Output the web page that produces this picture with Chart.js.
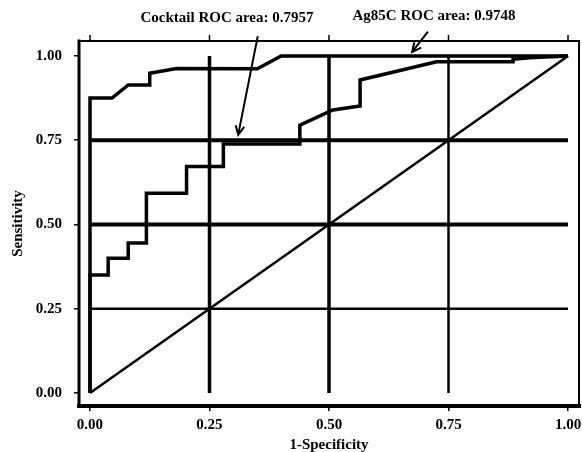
<!DOCTYPE html>
<html>
<head>
<meta charset="utf-8">
<script src="https://cdn.jsdelivr.net/npm/chart.js@4/dist/chart.umd.min.js"></script>
<style>
  html, body { margin: 0; padding: 0; background: #fff; }
  #wrap { width: 582px; height: 452px; }
</style>
</head>
<body>
<div id="wrap"><canvas id="roc"></canvas></div>
<script>
// --- data ---
const tickVals = [0, 0.25, 0.5, 0.75, 1];
const refLevels = [0.25, 0.5, 0.75];

// Ag85C ROC (upper curve)
const ag85cFpr = [0, 0, 0.046, 0.08, 0.125, 0.125, 0.181, 0.35, 0.40, 1.0];
const ag85cTpr = [0, 0.875, 0.875, 0.914, 0.914, 0.949, 0.963, 0.962, 1.0, 1.0];

// Cocktail ROC (lower curve)
const cocktailFpr = [0, 0, 0.038, 0.038, 0.08, 0.08, 0.118, 0.118, 0.202, 0.202, 0.279, 0.279,
  0.439, 0.439, 0.508, 0.565, 0.565, 0.725, 0.885, 0.885, 0.92, 1.0];
const cocktailTpr = [0, 0.35, 0.35, 0.40, 0.40, 0.445, 0.445, 0.593, 0.593, 0.672, 0.672, 0.739,
  0.739, 0.795, 0.84, 0.852, 0.929, 0.983, 0.983, 0.99, 0.995, 1.0];

const chanceFpr = [0, 1];
const chanceTpr = [0, 1];

// annotation labels and arrows (arrow ends in data units)
const labels = ['Cocktail ROC area: 0.7957', 'Ag85C ROC area: 0.9748'];
const arrowFrom = [[0.351, 1.059], [0.707, 1.072]];
const arrowTo = [[0.31, 0.766], [0.674, 1.012]];

const FONT = '"Liberation Serif", "Times New Roman", serif';

function pts(xs, ys) {
  return xs.map((x, i) => ({ x, y: ys[i] }));
}

function lineSet(data, width) {
  return {
    data,
    showLine: true,
    borderColor: '#000',
    borderWidth: width,
    pointRadius: 0,
    tension: 0,
    borderJoinStyle: 'miter',
  };
}

const hWidths = [2.5, 4, 4];
const vWidths = [3.5, 3.5, 2.5];

const datasets = [
  lineSet(pts(ag85cFpr, ag85cTpr), 3.5),
  lineSet(pts(cocktailFpr, cocktailTpr), 3.5),
  lineSet(pts(chanceFpr, chanceTpr), 2.5),
  ...refLevels.map((v, i) => lineSet([{ x: 0, y: v }, { x: 1, y: v }], hWidths[i])),
  ...refLevels.map((v, i) => lineSet([{ x: v, y: 0 }, { x: v, y: 1 }], vWidths[i])),
];

// frame, top ticks, annotations
const decor = {
  id: 'decor',
  afterDraw(chart) {
    const { ctx, chartArea: a, scales: { x, y } } = chart;
    ctx.save();
    ctx.strokeStyle = '#000';
    ctx.lineCap = 'square';
    const side = (x1, y1, x2, y2, w) => {
      ctx.lineWidth = w;
      ctx.beginPath(); ctx.moveTo(x1, y1); ctx.lineTo(x2, y2); ctx.stroke();
    };
    side(a.left, a.top, a.right, a.top, 2);
    side(a.right, a.top, a.right, a.bottom, 2);
    side(a.left, a.top, a.left, a.bottom, 3);
    side(a.left, a.bottom, a.right, a.bottom, 4);
    ctx.lineCap = 'butt';
    tickVals.forEach(v => {
      const px = x.getPixelForValue(v);
      side(px, a.top, px, a.top - 6, 1.5);
    });

    // arrows
    ctx.lineWidth = 2;
    arrowFrom.forEach((f, i) => {
      const x1 = x.getPixelForValue(f[0]), y1 = y.getPixelForValue(f[1]);
      const x2 = x.getPixelForValue(arrowTo[i][0]), y2 = y.getPixelForValue(arrowTo[i][1]);
      ctx.beginPath(); ctx.moveTo(x1, y1); ctx.lineTo(x2, y2); ctx.stroke();
      const ang = Math.atan2(y2 - y1, x2 - x1);
      const len = 10;
      ctx.beginPath();
      ctx.moveTo(x2 - len * Math.cos(ang - 0.45), y2 - len * Math.sin(ang - 0.45));
      ctx.lineTo(x2, y2);
      ctx.lineTo(x2 - len * Math.cos(ang + 0.45), y2 - len * Math.sin(ang + 0.45));
      ctx.stroke();
    });

    ctx.fillStyle = '#000';
    ctx.font = 'bold 15px ' + FONT;
    ctx.textAlign = 'center';
    ctx.textBaseline = 'middle';
    ctx.fillText(labels[0], 227, 18);
    ctx.fillText(labels[1], 434, 16);
    ctx.restore();
  }
};

const tickFont = { family: FONT, size: 15, weight: 'bold' };

new Chart(document.getElementById('roc'), {
  type: 'scatter',
  data: { datasets },
  options: {
    responsive: true,
    maintainAspectRatio: false,
    animation: false,
    layout: { padding: { left: 0, top: 41, right: 3, bottom: 0 } },
    plugins: { legend: { display: false }, tooltip: { enabled: false } },
    scales: {
      x: {
        type: 'linear',
        min: -0.023,
        max: 1.023,
        afterBuildTicks: s => { s.ticks = tickVals.map(v => ({ value: v })); },
        afterFit: s => { s.height = 46; s.paddingLeft = 0; s.paddingRight = 0; },
        ticks: { color: '#000', font: tickFont, padding: 5, maxRotation: 0, callback: v => v.toFixed(2) },
        grid: { drawOnChartArea: false, drawTicks: true, tickLength: 5, color: '#000', lineWidth: 1.5 },
        border: { display: false },
        title: { display: true, text: '1-Specificity', color: '#000', font: tickFont, padding: { top: 0, bottom: -2 } },
      },
      y: {
        type: 'linear',
        min: -0.0386,
        max: 1.0445,
        afterBuildTicks: s => { s.ticks = tickVals.map(v => ({ value: v })); },
        afterFit: s => { s.width = 79; s.paddingTop = 0; s.paddingBottom = 0; },
        ticks: { color: '#000', font: tickFont, padding: 12, callback: v => v.toFixed(2) },
        grid: { drawOnChartArea: false, drawTicks: true, tickLength: 5, color: '#000', lineWidth: 1.5 },
        border: { display: false },
        title: { display: true, text: 'Sensitivity', color: '#000', font: tickFont, padding: { top: 9, bottom: 0 } },
      },
    },
  },
  plugins: [decor],
});
</script>
</body>
</html>
